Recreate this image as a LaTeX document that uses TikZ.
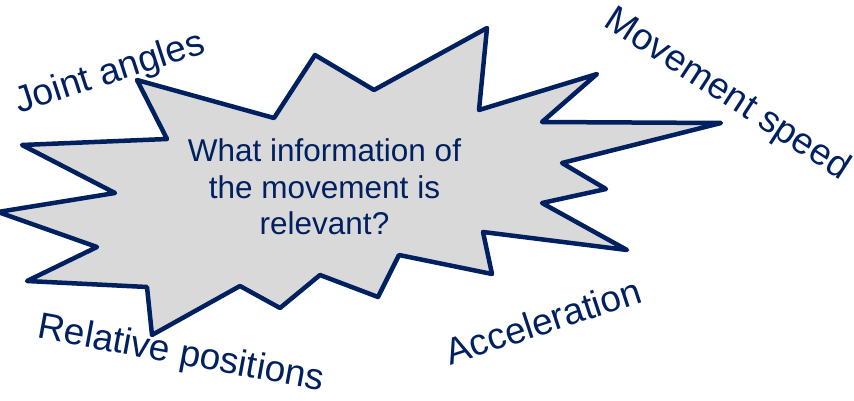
\documentclass[tikz,border=0pt]{standalone}
\usepackage{fontspec}
\setmainfont{Liberation Sans}
\definecolor{navy}{HTML}{002060}
\definecolor{burst}{HTML}{D9D9D9}
\tikzset{
  burstshape/.style={draw=navy, fill=burst, line width=4.5pt, line join=round},
  maintext/.style={text=navy, align=center, inner sep=0pt, font=\fontsize{31.5}{36.7}\selectfont},
  labeltext/.style={text=navy, inner sep=0pt, font=\fontsize{37}{42}\selectfont}
}
\begin{document}
\begin{tikzpicture}[x=1pt,y=-1pt]
\useasboundingbox (0,0) rectangle (854,401);
\draw[burstshape] (137,80) -- (274,118) -- (315,55) -- (374,90) -- (487,28) -- (479,110)
  -- (597,74) -- (542,122) -- (721,123) -- (562,163) -- (606,189) -- (542,203)
  -- (627,250) -- (483,232) -- (492,274) -- (399,255) -- (378,297) -- (320,275)
  -- (280,308) -- (240,286) -- (152,335) -- (147,287) -- (27,281) -- (97,247)
  -- (-2,212) -- (115,193) -- (22,145) -- (167,139) -- cycle;
\node[maintext] (q) at (324.5,187) {What information of\\the movement is\\relevant?};
\node[labeltext, rotate=18] (ja) at (110,74) {Joint angles};
\node[labeltext, rotate=-33] (ms) at (727,95) {Movement speed};
\node[labeltext, rotate=-10.5] (rp) at (181,355) {Relative positions};
\node[labeltext, rotate=18.3] (ac) at (543,321) {Acceleration};
\end{tikzpicture}
\end{document}
